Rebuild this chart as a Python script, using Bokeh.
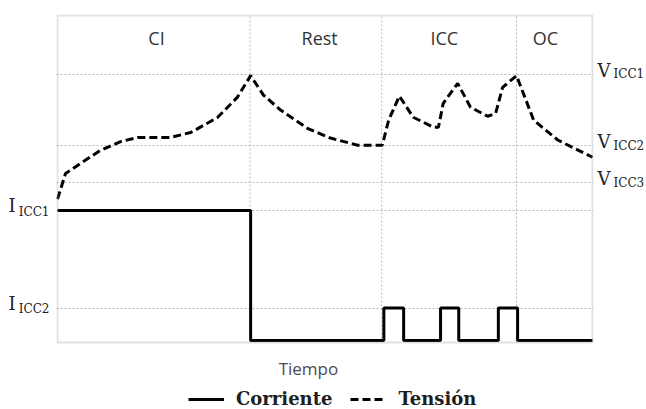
from bokeh.plotting import figure
from bokeh.models import (Label, Grid, FixedTicker, Legend, LegendItem, Range1d,
                          LinearAxis, BoxAnnotation)
from bokeh.embed import file_html
from bokeh.resources import INLINE

# ---- data (time in arbitrary units 0..100, amplitude 0..10) ----
t_volt = [0.0, 1.5, 4.3, 8.0, 11.8, 15.0, 21.1, 24.9, 29.9, 33.6, 36.1,
          38.5, 41.7, 46.7, 51.0, 56.1, 60.7,
          61.9, 63.9, 66.5, 70.3, 71.2, 72.1, 74.8, 77.2, 80.4, 81.9, 83.2, 85.8,
          89.0, 93.5, 100.0]
v_volt = [4.35, 5.14, 5.45, 5.85, 6.12, 6.25, 6.25, 6.40, 6.86, 7.48, 8.15,
          7.55, 7.09, 6.53, 6.23, 6.01, 6.01,
          6.78, 7.52, 6.87, 6.56, 6.56, 7.30, 7.91, 7.18, 6.90, 6.99, 7.79, 8.15,
          6.78, 6.17, 5.64]

t_step = [0.0, 36.1, 61.0, 64.7, 71.6, 75.0, 82.4, 86.0, 100.0]
i_step = [4.0, 0.0, 1.0, 0.0, 1.0, 0.0, 1.0, 0.0, 0.0]

phase_names = ["CI", "Rest", "ICC", "OC"]
phase_label_x = [18.5, 49.0, 72.3, 91.2]
phase_bounds = [36.0, 60.6, 85.8]

current_levels = [4.0, 1.0]
current_main = ["I", "I"]
current_subs = ["ICC1", "ICC2"]
voltage_levels = [8.2, 6.0, 4.85]
voltage_main = ["V", "V", "V"]
voltage_subs = ["ICC1", "ICC2", "ICC3"]

x_title = "Tiempo"
legend_names = ["Corriente", "Tensión"]

# ---- geometry ----
X0, X1 = 0.0, 100.0          # chart box, time
Y0, Y1 = -0.06, 10.0         # chart box, amplitude
PX_X = 535.0 / (X1 - X0)
PX_Y = 327.0 / (Y1 - Y0)
pad_x = 1.0 / PX_X           # 1px margin so the box border is not clipped
pad_top = 1.0 / PX_Y
below = 67.0 / PX_Y          # room below the box for title and legend

x_rng = Range1d(X0 - pad_x, X1 + pad_x)
y_rng = Range1d(Y0 - below, Y1 + pad_top)

p = figure(frame_width=537, frame_height=395, output_backend="svg", toolbar_location=None,
           x_axis_location=None, y_axis_location=None,
           x_range=x_rng, y_range=y_rng,
           min_border_left=56, min_border_right=53, min_border_top=14,
           min_border_bottom=0)
p.center = [c for c in p.center if not isinstance(c, Grid)]
p.outline_line_color = None
p.background_fill_color = "white"
p.border_fill_color = "white"


def shifted(px):
    """range shifted so that tick labels move down by px pixels"""
    d = px / PX_Y
    return Range1d(y_rng.start + d, y_rng.end + d)


p.extra_y_ranges = {
    "i_main": shifted(-5),
    "i_sub": shifted(1),
    "v_main": shifted(-4),
    "v_sub": shifted(0),
}

grid_color = "#b8b8b8"
p.add_layout(Grid(dimension=1, ticker=FixedTicker(ticks=voltage_levels + current_levels),
                  grid_line_color=grid_color, grid_line_dash="2 2", grid_line_width=1))
p.segment(x0=phase_bounds, y0=[Y0] * len(phase_bounds), x1=phase_bounds,
          y1=[Y1] * len(phase_bounds), line_color=grid_color, line_dash="2 2", line_width=1)

# chart box border
p.add_layout(BoxAnnotation(left=X0, right=X1, bottom=Y0, top=Y1, fill_alpha=0,
                           line_color="#9c9c9c", line_width=2))

r_i = p.step(t_step, i_step, mode="after", line_color="black", line_width=3)
r_v = p.line(t_volt, v_volt, line_color="black", line_width=3, line_dash="8 4")

# phase labels
for name, x in zip(phase_names, phase_label_x):
    p.add_layout(Label(x=x, y=9.32, text=name, text_align="center", text_baseline="middle",
                       text_font="Open Sans", text_font_size="18px", text_color="#333333"))


def label_axis(levels, texts, rng, size, standoff):
    return LinearAxis(y_range_name=rng, ticker=FixedTicker(ticks=levels),
                      major_label_overrides={lv: t for lv, t in zip(levels, texts)},
                      axis_line_color=None, major_tick_line_color=None,
                      minor_tick_line_color=None, major_tick_out=0, major_tick_in=0,
                      major_label_standoff=standoff,
                      major_label_text_font="DejaVu Serif",
                      major_label_text_font_size=size,
                      major_label_text_color="#222222")


# left: subscript nearest the box, then the main letter
p.add_layout(label_axis(current_levels, current_subs, "i_sub", "12px", 7), "left")
p.add_layout(label_axis(current_levels, current_main, "i_main", "18px", 0), "left")
# right: main letter nearest the box, then subscript
p.add_layout(label_axis(voltage_levels, voltage_main, "v_main", "18px", 4), "right")
p.add_layout(label_axis(voltage_levels, voltage_subs, "v_sub", "12px", 0), "right")

# x title
p.add_layout(Label(x=46.9, y=Y0 - 26.0 / PX_Y, text=x_title, text_align="center",
                   text_baseline="middle", text_font="Open Sans", text_font_size="17px",
                   text_color="#4a4a58"))

legend = Legend(items=[LegendItem(label=legend_names[0], renderers=[r_i]),
                       LegendItem(label=legend_names[1], renderers=[r_v])],
                orientation="horizontal", location=(132, 0),
                label_text_font="DejaVu Serif", label_text_font_style="bold",
                label_text_font_size="18px", label_text_color="#1e1e1e",
                glyph_width=36, label_standoff=12, spacing=18, padding=0, margin=0,
                border_line_color=None, background_fill_alpha=0)
p.add_layout(legend)

open("out.html", "w").write(file_html(p, INLINE))
